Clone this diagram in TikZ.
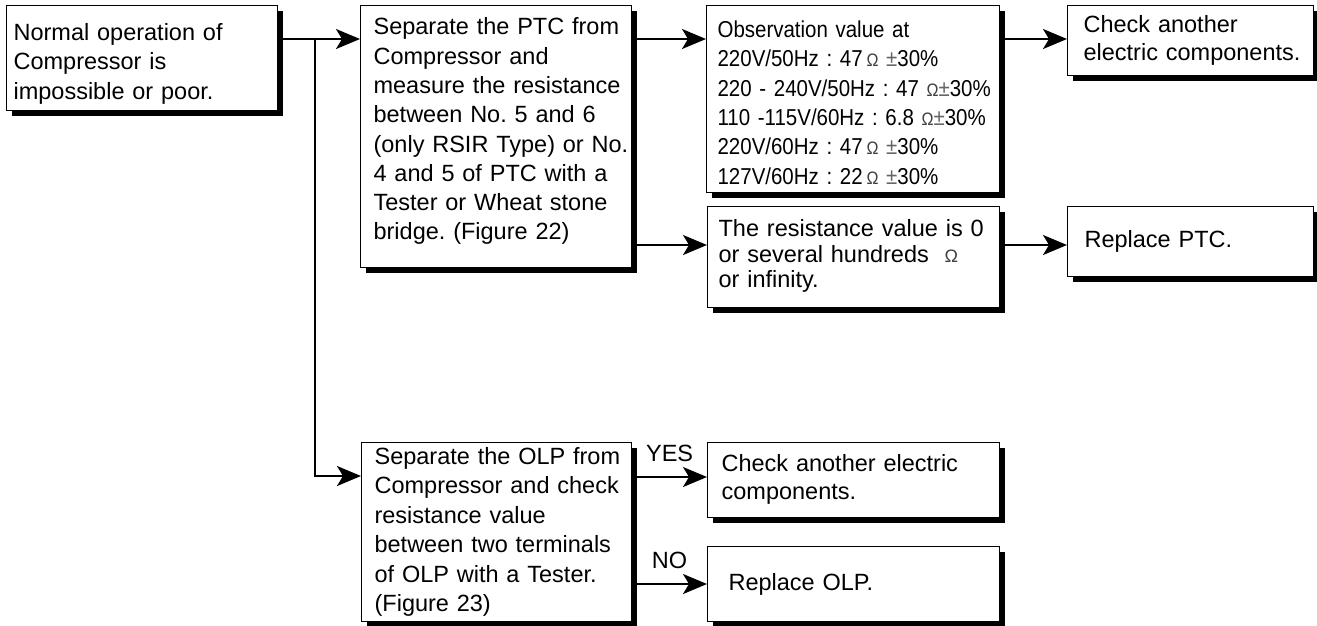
\documentclass[tikz,border=0pt]{standalone}
\usepackage{fontspec}
\setmainfont{Liberation Sans}
\newfontfamily\narrowfont[FakeStretch=0.89]{Liberation Sans}
\usetikzlibrary{arrows.meta,shadows}
\newcommand{\smallohm}{{\fontsize{18}{18}\selectfont\color{black!75}Ω}}
\newcommand{\pmgray}{{\color{black!60}±}}
\newcommand{\padtop}[1]{\rule{0pt}{#1}}
\newcommand{\padbot}[1]{\rule[-#1]{0pt}{0pt}}
\frenchspacing
\begin{document}
\frenchspacing
\begin{tikzpicture}[x=1pt,y=-1pt,
  box/.style={draw=black, line width=1.2pt, fill=white, anchor=north west, align=left,
    inner ysep=0pt, drop shadow={shadow xshift=5pt, shadow yshift=-5pt, opacity=1, fill=black},
    font=\fontsize{23.5}{29.5}\selectfont},
  arr/.style={line width=2pt, -{Stealth[length=24pt,width=20pt,inset=6pt]}},
  yesno/.style={font=\fontsize{23.5}{28}\selectfont, inner sep=0pt, above=14pt}]
\useasboundingbox (0,0) rectangle (1317,625);

\node[box, minimum width=271pt, minimum height=105pt, text width=257pt, inner xsep=7pt] (A) at (6,5)
  {\begin{tabular}{@{}l@{}}\padtop{32pt}Normal operation of\\Compressor is\\impossible or poor.\end{tabular}};

\node[box, minimum width=271pt, minimum height=262pt, text width=245pt, inner xsep=13pt,
  font=\fontsize{23.5}{29.3}\selectfont] (B) at (360,5)
  {\begin{tabular}{@{}l@{}}Separate the PTC from\\Compressor and\\measure the resistance\\between No. 5 and 6\\(only RSIR Type) or No.\\4 and 5 of PTC with a\\Tester or Wheat stone\\bridge. (Figure 22)\padbot{19pt}\end{tabular}};

\node[box, minimum width=293pt, minimum height=179pt, text width=271pt, inner xsep=11pt,
  font=\narrowfont\fontsize{23}{29.3}\selectfont] (C) at (706,5)
  {\begin{tabular}{@{}l@{}}\padtop{32pt}Observation value at\\220V/50Hz : 47\,\smallohm\ \pmgray30\%\\220 - 240V/50Hz : 47 \smallohm\pmgray30\%\\110 -115V/60Hz : 6.8 \smallohm\pmgray30\%\\220V/60Hz : 47\,\smallohm\ \pmgray30\%\\127V/60Hz : 22\,\smallohm\ \pmgray30\%\end{tabular}};

\node[box, minimum width=246pt, minimum height=70pt, text width=214pt, inner xsep=16pt,
  font=\fontsize{23.5}{28}\selectfont] (E) at (1067,5)
  {\begin{tabular}{@{}l@{}}Check another\\electric components.\end{tabular}};

\node[box, minimum width=292pt, minimum height=101pt, text width=270pt, inner xsep=11pt,
  font=\fontsize{23.5}{25.5}\selectfont] (D) at (707,206)
  {\begin{tabular}{@{}l@{}}The resistance value is 0\\or several hundreds \ \smallohm\\or infinity.\end{tabular}};

\node[box, minimum width=246pt, minimum height=70pt, text width=212pt, inner xsep=17pt] (F) at (1067,206)
  {\begin{tabular}{@{}l@{}}Replace PTC.\end{tabular}};

\node[box, minimum width=270pt, minimum height=179pt, text width=244pt, inner xsep=13pt] (G) at (361,442)
  {\begin{tabular}{@{}l@{}}Separate the OLP from\\Compressor and check\\resistance value\\between two terminals\\of OLP with a Tester.\\(Figure 23)\end{tabular}};

\node[box, minimum width=292pt, minimum height=75pt, text width=264pt, inner xsep=14pt,
  font=\fontsize{23.5}{28}\selectfont] (H) at (707,442)
  {\begin{tabular}{@{}l@{}}Check another electric\\components.\end{tabular}};

\node[box, minimum width=292pt, minimum height=75pt, text width=250pt, inner xsep=21pt] (I) at (707,546)
  {\begin{tabular}{@{}l@{}}Replace OLP.\end{tabular}};

% connectors
\coordinate (a1) at ([yshift=-34pt]A.north east);
\coordinate (br) at (315,39);
\coordinate (g1) at ([yshift=-34pt]G.north west);
\coordinate (b1) at ([yshift=-34pt]B.north east);
\coordinate (b2) at ([yshift=-240pt]B.north east);
\coordinate (c1) at ([yshift=-34pt]C.north east);
\coordinate (d1) at ([yshift=-39pt]D.north east);
\coordinate (g2) at ([yshift=-35pt]G.north east);
\coordinate (g3) at ([yshift=-142pt]G.north east);

\draw[arr] (a1) -- (a1 -| B.west);
\draw[arr] (br) |- (g1);
\draw[arr] (b1) -- (b1 -| C.west);
\draw[arr] (b2) -- (b2 -| D.west);
\draw[arr] (c1) -- (c1 -| E.west);
\draw[arr] (d1) -- (d1 -| F.west);
\draw[arr] (g2) -- node[yesno] {YES} (g2 -| H.west);
\draw[arr] (g3) -- node[yesno] {NO} (g3 -| I.west);
\end{tikzpicture}
\end{document}
